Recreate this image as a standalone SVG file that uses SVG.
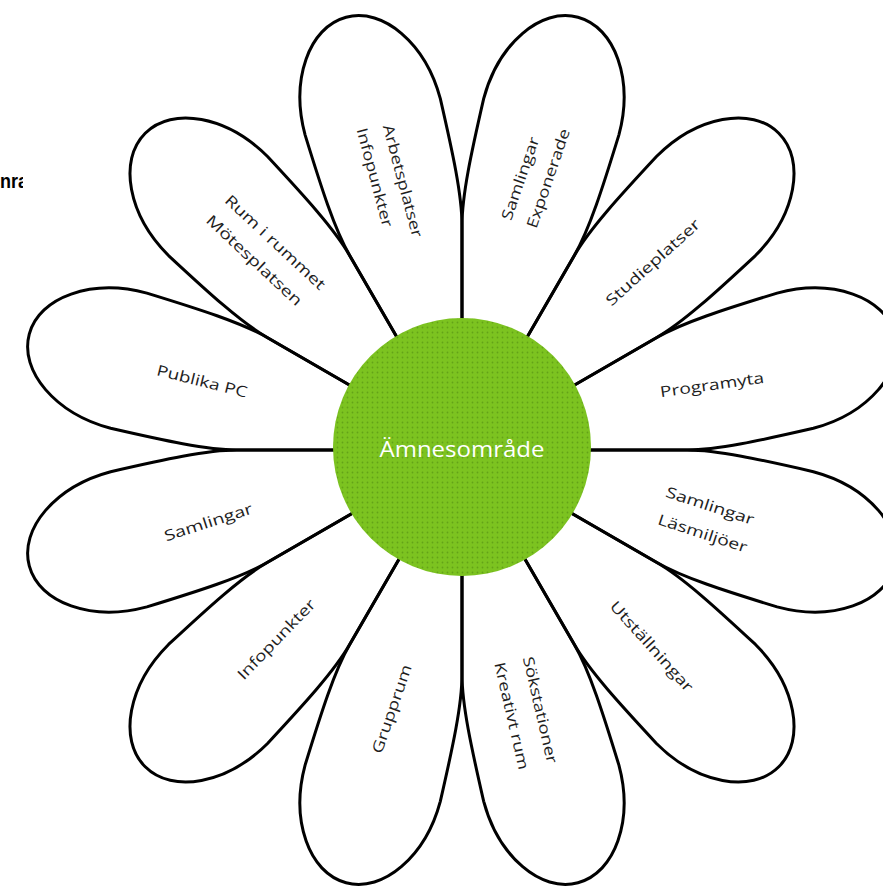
<svg xmlns="http://www.w3.org/2000/svg" width="883" height="893" viewBox="0 0 883 893">
<style>
.petal{fill:none;stroke:#000;stroke-width:3;stroke-linejoin:round;stroke-linecap:round}
.lbl{font-family:"Open Sans","Noto Sans","DejaVu Sans",sans-serif;font-size:15px;fill:#1e1e1e;text-anchor:middle}
.hub{font-family:"Open Sans","Noto Sans",sans-serif;font-size:22px;fill:#fff;text-anchor:middle}
.corner{font-family:"Liberation Sans",Arial,sans-serif;font-size:20px;font-weight:bold;fill:#000}
</style>
<defs>
<path id="petal" d="M100,26.8 L217.3,58.2 C246.3,66 290,68 345,70 C402,70 448,38.6 448,0 C448,-38.6 402,-70 345,-70 C290,-68 246.3,-66 217.3,-58.2 L100,-26.8"/>
<pattern id="dots" width="5" height="5" patternUnits="userSpaceOnUse">
<rect width="5" height="5" fill="#7cc320"/>
<circle cx="2.5" cy="2.5" r="0.9" fill="#63a317"/>
</pattern>
<clipPath id="clipTL"><rect x="0" y="160" width="23" height="40"/></clipPath>
</defs>
<rect width="883" height="893" fill="#fff"/>
<g id="corner-text" clip-path="url(#clipTL)">
<text class="corner" x="0" y="188" textLength="28" lengthAdjust="spacingAndGlyphs">nra</text>
</g>
<g id="petal-arbetsplatser">
<use href="#petal" class="petal" transform="translate(462 450) rotate(-105)"/>
<text class="lbl" transform="translate(402.5 181) rotate(75)" dy="5" textLength="116" lengthAdjust="spacingAndGlyphs">Arbetsplatser</text>
<text class="lbl" transform="translate(374.5 177.5) rotate(75)" dy="5" textLength="102" lengthAdjust="spacingAndGlyphs">Infopunkter</text>
</g>
<g id="petal-samlingar-exponerade">
<use href="#petal" class="petal" transform="translate(462 450) rotate(-75)"/>
<text class="lbl" transform="translate(520.5 178.5) rotate(-71)" dy="5" textLength="87" lengthAdjust="spacingAndGlyphs">Samlingar</text>
<text class="lbl" transform="translate(548.5 178.5) rotate(-71)" dy="5" textLength="104" lengthAdjust="spacingAndGlyphs">Exponerade</text>
</g>
<g id="petal-studieplatser">
<use href="#petal" class="petal" transform="translate(462 450) rotate(-45)"/>
<text class="lbl" transform="translate(653 262.5) rotate(-42)" dy="5" textLength="121" lengthAdjust="spacingAndGlyphs">Studieplatser</text>
</g>
<g id="petal-programyta">
<use href="#petal" class="petal" transform="translate(462 450) rotate(-15)"/>
<text class="lbl" transform="translate(712 385) rotate(-8)" dy="5" textLength="105" lengthAdjust="spacingAndGlyphs">Programyta</text>
</g>
<g id="petal-samlingar-lasmiljoer">
<use href="#petal" class="petal" transform="translate(462 450) rotate(15)"/>
<text class="lbl" transform="translate(710 506) rotate(18)" dy="5" textLength="92" lengthAdjust="spacingAndGlyphs">Samlingar</text>
<text class="lbl" transform="translate(702.5 533.5) rotate(18)" dy="5" textLength="93" lengthAdjust="spacingAndGlyphs">Läsmiljöer</text>
</g>
<g id="petal-utstallningar">
<use href="#petal" class="petal" transform="translate(462 450) rotate(45)"/>
<text class="lbl" transform="translate(651.5 646.5) rotate(48)" dy="5" textLength="116" lengthAdjust="spacingAndGlyphs">Utställningar</text>
</g>
<g id="petal-sokstationer">
<use href="#petal" class="petal" transform="translate(462 450) rotate(75)"/>
<text class="lbl" transform="translate(540 710) rotate(77)" dy="5" textLength="109" lengthAdjust="spacingAndGlyphs">Sökstationer</text>
<text class="lbl" transform="translate(511.5 716) rotate(77)" dy="5" textLength="110" lengthAdjust="spacingAndGlyphs">Kreativt rum</text>
</g>
<g id="petal-grupprum">
<use href="#petal" class="petal" transform="translate(462 450) rotate(105)"/>
<text class="lbl" transform="translate(392 709) rotate(-71)" dy="5" textLength="93" lengthAdjust="spacingAndGlyphs">Grupprum</text>
</g>
<g id="petal-infopunkter">
<use href="#petal" class="petal" transform="translate(462 450) rotate(135)"/>
<text class="lbl" transform="translate(276.5 639.5) rotate(-46)" dy="5" textLength="105" lengthAdjust="spacingAndGlyphs">Infopunkter</text>
</g>
<g id="petal-samlingar">
<use href="#petal" class="petal" transform="translate(462 450) rotate(165)"/>
<text class="lbl" transform="translate(208.5 522.5) rotate(-18)" dy="5" textLength="92" lengthAdjust="spacingAndGlyphs">Samlingar</text>
</g>
<g id="petal-publika-pc">
<use href="#petal" class="petal" transform="translate(462 450) rotate(-165)"/>
<text class="lbl" transform="translate(202 381.5) rotate(14)" dy="5" textLength="93" lengthAdjust="spacingAndGlyphs">Publika PC</text>
</g>
<g id="petal-rum-i-rummet">
<use href="#petal" class="petal" transform="translate(462 450) rotate(-135)"/>
<text class="lbl" transform="translate(275 242.5) rotate(43)" dy="5" textLength="131" lengthAdjust="spacingAndGlyphs">Rum i rummet</text>
<text class="lbl" transform="translate(254 260.5) rotate(43)" dy="5" textLength="125" lengthAdjust="spacingAndGlyphs">Mötesplatsen</text>
</g>
<g id="hub">
<circle cx="462" cy="447" r="129" fill="url(#dots)"/>
<text class="hub" x="462" y="457" textLength="165" lengthAdjust="spacingAndGlyphs">Ämnesområde</text>
</g>
</svg>
